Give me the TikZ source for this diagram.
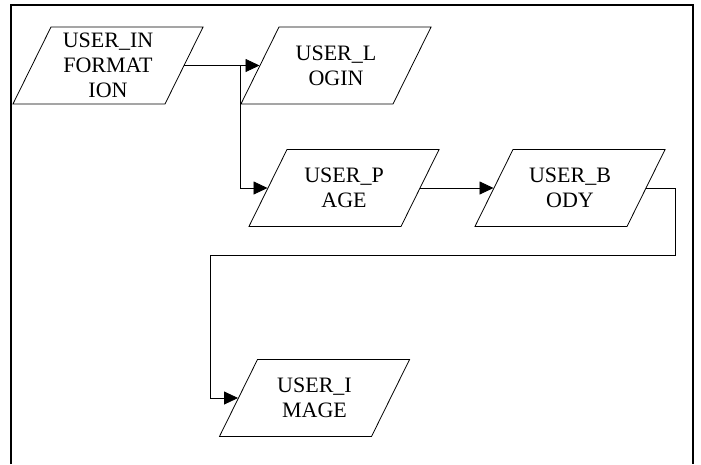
\documentclass[tikz,border=0pt]{standalone}
\usepackage{fontspec}
\setmainfont{Liberation Serif}
\usetikzlibrary{shapes.geometric,arrows.meta,positioning}

% fixed box for the table names, so every parallelogram has the same size
\newcommand{\tabletext}[1]{\parbox[c][60pt][c]{100pt}{\centering\fontsize{22}{25}\selectfont #1}}

\tikzset{
  data/.style={draw, trapezium, trapezium left angle=63.7, trapezium right angle=116.3,
    inner xsep=7pt, inner ysep=8.5pt, line width=0.8pt},
  flow/.style={-{Triangle[length=14pt,width=13pt]}, line width=0.8pt},
}

\begin{document}
\begin{tikzpicture}[x=1pt,y=-1pt]
\useasboundingbox (0,0) rectangle (701,464);
% frame, open at the bottom
\draw[line width=2.5pt] (11,464) -- (11,5) -- (693,5) -- (693,464);

% tables
\node[data] (info)  at (108,65.5) {\tabletext{USER\_IN\\FORMAT\\ION}};
\node[data] (login) at (336,65.5) {\tabletext{USER\_L\\OGIN}};
\node[data] (page)  at (344,188)  {\tabletext{USER\_P\\AGE}};
\node[data] (body)  at (570,188)  {\tabletext{USER\_B\\ODY}};
\node[data] (image) at (314.5,398) {\tabletext{USER\_I\\MAGE}};

% bends of the connectors
\coordinate (split) at (240,65.5);
\coordinate (turn)  at (675,255);
\coordinate (back)  at (210,255);

\draw[flow] (info.east) -- (login.west);
\draw[flow] (split) |- (page.west);
\draw[flow] (page.east) -- (body.west);
\draw[flow] (body.east) -| (turn) -- (back) |- (image.west);
\end{tikzpicture}
\end{document}
